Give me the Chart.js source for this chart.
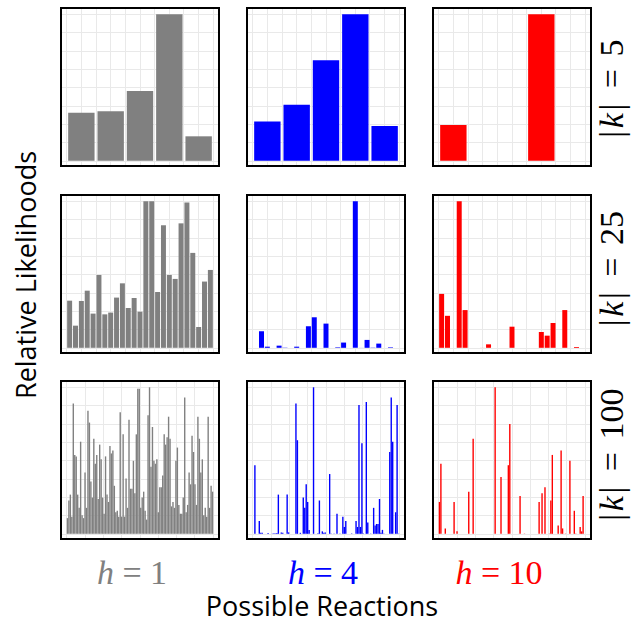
<!DOCTYPE html>
<html lang="en">
<head>
<meta charset="UTF-8">
<title>Relative likelihoods of possible reactions</title>
<script src="https://cdn.jsdelivr.net/npm/chart.js@4"></script>
<style>
  body { margin: 0; background: #fff; }
  #wrap { position: relative; width: 640px; height: 626px; overflow: hidden; }
  .panel { position: absolute; width: 156px; height: 156px; border: 2px solid #000; background: #fff; }
  .panel canvas { display: block; }
  .lbl { position: absolute; white-space: nowrap; transform: translate(-50%, -50%); line-height: 1; }
  .title { font-family: 'Open Sans', sans-serif; font-size: 27px; color: #000; }
  .math { font-family: 'Liberation Serif', serif; font-size: 34px; }
  .rot { transform: translate(-50%, -50%) rotate(-90deg); }
  .pipe { margin: 0 0.08em; }
  .eq { margin: 0 0.12em; }
</style>
</head>
<body>
<div id="wrap"></div>
<script>
// relative likelihood of each possible reaction (tallest = 100)
const gray5 = [33.1, 34.0, 47.8, 100, 17.0];
const blue5 = [27.0, 38.5, 68.7, 100, 24.0];
const red5 = [24.7, 0, 0, 100, 0];

const gray25 = [32.4, 15.4, 32.2, 39.2, 23.6, 49.9, 23.1, 24.3, 34.5, 44.2, 27.4, 34.2, 24.9,
  100, 100, 38.3, 83.7, 49.9, 47.2, 85.0, 99.1, 64.9, 14.5, 45.4, 53.3];
const blue25 = [0, 11.6, 1.1, 0, 1.8, 0.5, 0, 1.1, 0, 15.0, 21.1, 0, 16.8,
  0, 0.7, 3.9, 0, 100, 0.3, 5.7, 0.5, 3.2, 0, 0.7, 0];
const red25 = [37.0, 22.1, 0, 100, 26.0, 0, 0, 0.3, 2.7, 0, 0, 0, 14.7,
  0, 0, 0, 0, 11.1, 8.6, 17.2, 0, 26.0, 0, 0.9, 0];

const gray100 = [
  11, 23, 27, 12, 89, 54, 53, 27, 18, 63,
  13, 11, 42, 18, 84, 76, 36, 25, 65, 48,
  54, 24, 61, 51, 25, 14, 53, 27, 22, 60,
  55, 57, 33, 15, 16, 12, 83, 12, 68, 12,
  38, 18, 78, 31, 31, 50, 28, 68, 99, 99,
  18, 25, 29, 16, 10, 81, 100, 46, 73, 50,
  48, 51, 15, 32, 32, 40, 68, 61, 66, 80,
  65, 19, 22, 18, 50, 59, 20, 14, 14, 25,
  93, 15, 20, 42, 34, 67, 56, 34, 20, 80,
  65, 42, 51, 13, 18, 12, 80, 18, 33, 29];
const blue100 = [
  0, 47, 0, 0, 9, 1, 1, 0, 0, 0,
  0.8, 0, 0, 0.5, 0.7, 0.6, 0.8, 27, 0, 1.3,
  1, 0, 0, 27, 1.3, 0, 0, 0, 0, 89,
  64, 0, 1, 0, 25, 18, 34, 22, 3, 0,
  0, 100, 0, 0, 0.7, 23, 0, 2, 1, 1.3,
  0, 0, 41, 0.6, 0, 0.6, 0, 14, 0, 0.5,
  0, 12, 5, 9, 0, 0, 0, 0.6, 0, 0,
  9, 5, 88, 5, 62, 0.6, 0, 90, 8, 0,
  0.6, 0, 18, 6, 7, 7, 24, 1, 3, 0.6,
  0, 0, 0, 56, 93, 63, 0, 15, 88, 0.5];
const red100 = [
  22, 48, 0, 0, 4, 0, 0, 0, 0.3, 0,
  22, 0, 2, 0, 0, 0, 0, 0, 0, 0,
  29, 0, 0, 65, 0, 0, 0, 0, 0, 0,
  0, 0, 0, 0, 0, 0, 0, 0, 100, 0,
  0, 0, 39, 0, 0, 0, 0, 47, 75, 0,
  0, 0, 0, 0, 0.3, 26, 0, 0, 0.5, 0,
  0, 0, 0, 0, 0, 0, 0, 0, 22, 0,
  28, 0, 32, 0, 0.3, 0.5, 23, 54, 0, 0,
  0, 6, 0, 57, 4, 0, 0.5, 0, 0, 50,
  0, 0, 16, 0.5, 0, 0, 5, 2, 26, 0];

const hLabels = ['1', '4', '10'];
const kLabels = ['5', '25', '100'];
const colors = ['#808080', '#0000ff', '#ff0000'];

const grid = [
  [gray5, blue5, red5],
  [gray25, blue25, red25],
  [gray100, blue100, red100]
];

// layout
const colX = [60, 246, 432];
const rowY = [7, 194, 380];
const xDivs = [10, 10, 8];
const barPct = [0.9, 0.85, 0.95];
const GRID = '#e9e9e9';

const wrap = document.getElementById('wrap');

function makeChart(canvas, values, color, xDiv, pct) {
  const n = values.length;
  const M = Math.max(...values);
  const px = 146.6 / n;
  const xMin = 0.5 - 4.7 / px;
  const xMax = n + 0.5 + 4.7 / px;
  const yMin = -3.7 * M / 147;
  const yMax = M + 5.3 * M / 147;
  const labels = values.map((v, i) => i + 1);

  new Chart(canvas, {
    type: 'bar',
    data: {
      labels: labels,
      datasets: [{
        data: values,
        xAxisID: 'x',
        yAxisID: 'y',
        backgroundColor: color,
        borderWidth: 0,
        categoryPercentage: 1,
        barPercentage: pct
      }]
    },
    options: {
      responsive: false,
      animation: false,
      events: [],
      layout: { padding: 0 },
      plugins: { legend: { display: false }, tooltip: { enabled: false } },
      scales: {
        x: {
          type: 'linear', axis: 'x', display: false, offset: false,
          min: xMin, max: xMax,
          afterBuildTicks: s => { s.ticks = labels.map(v => ({ value: v })); }
        },
        xg: {
          type: 'linear', axis: 'x', position: 'bottom', offset: false,
          min: xMin, max: xMax,
          ticks: { display: false },
          border: { display: false },
          grid: { color: GRID, drawTicks: false, offset: false },
          afterBuildTicks: s => {
            const t = [];
            for (let k = 0; k <= xDiv; k++) t.push({ value: 0.5 + n * k / xDiv });
            s.ticks = t;
          }
        },
        y: {
          type: 'linear', min: yMin, max: yMax,
          ticks: { display: false },
          border: { display: false },
          grid: { color: GRID, drawTicks: false },
          afterBuildTicks: s => {
            const t = [];
            for (let k = 0; k <= 8; k++) t.push({ value: M * k / 8 });
            s.ticks = t;
          }
        }
      }
    }
  });
}

grid.forEach((row, r) => {
  row.forEach((values, c) => {
    const div = document.createElement('div');
    div.className = 'panel';
    div.style.left = colX[c] + 'px';
    div.style.top = rowY[r] + 'px';
    const cv = document.createElement('canvas');
    cv.width = 156;
    cv.height = 156;
    div.appendChild(cv);
    wrap.appendChild(div);
    makeChart(cv, values, colors[c], xDivs[r], barPct[r]);
  });
});

function addLabel(html, cls, x, y, color) {
  const d = document.createElement('div');
  d.className = 'lbl ' + cls;
  d.style.left = x + 'px';
  d.style.top = y + 'px';
  if (color) d.style.color = color;
  d.innerHTML = html;
  wrap.appendChild(d);
}

const hX = [132, 323, 499];
hLabels.forEach((h, i) => addLabel('<i>h</i> = ' + h, 'math', hX[i], 573, colors[i]));

const kY = [90, 270, 456];
kLabels.forEach((k, i) => addLabel(
  '<span class="pipe">|</span><i>k</i><span class="pipe">|</span> <span class="eq">=</span> ' + k,
  'math rot', 612, kY[i], '#000'));

addLabel('Relative Likelihoods', 'title rot', 25, 275);
addLabel('Possible Reactions', 'title', 322, 605);
</script>
</body>
</html>
